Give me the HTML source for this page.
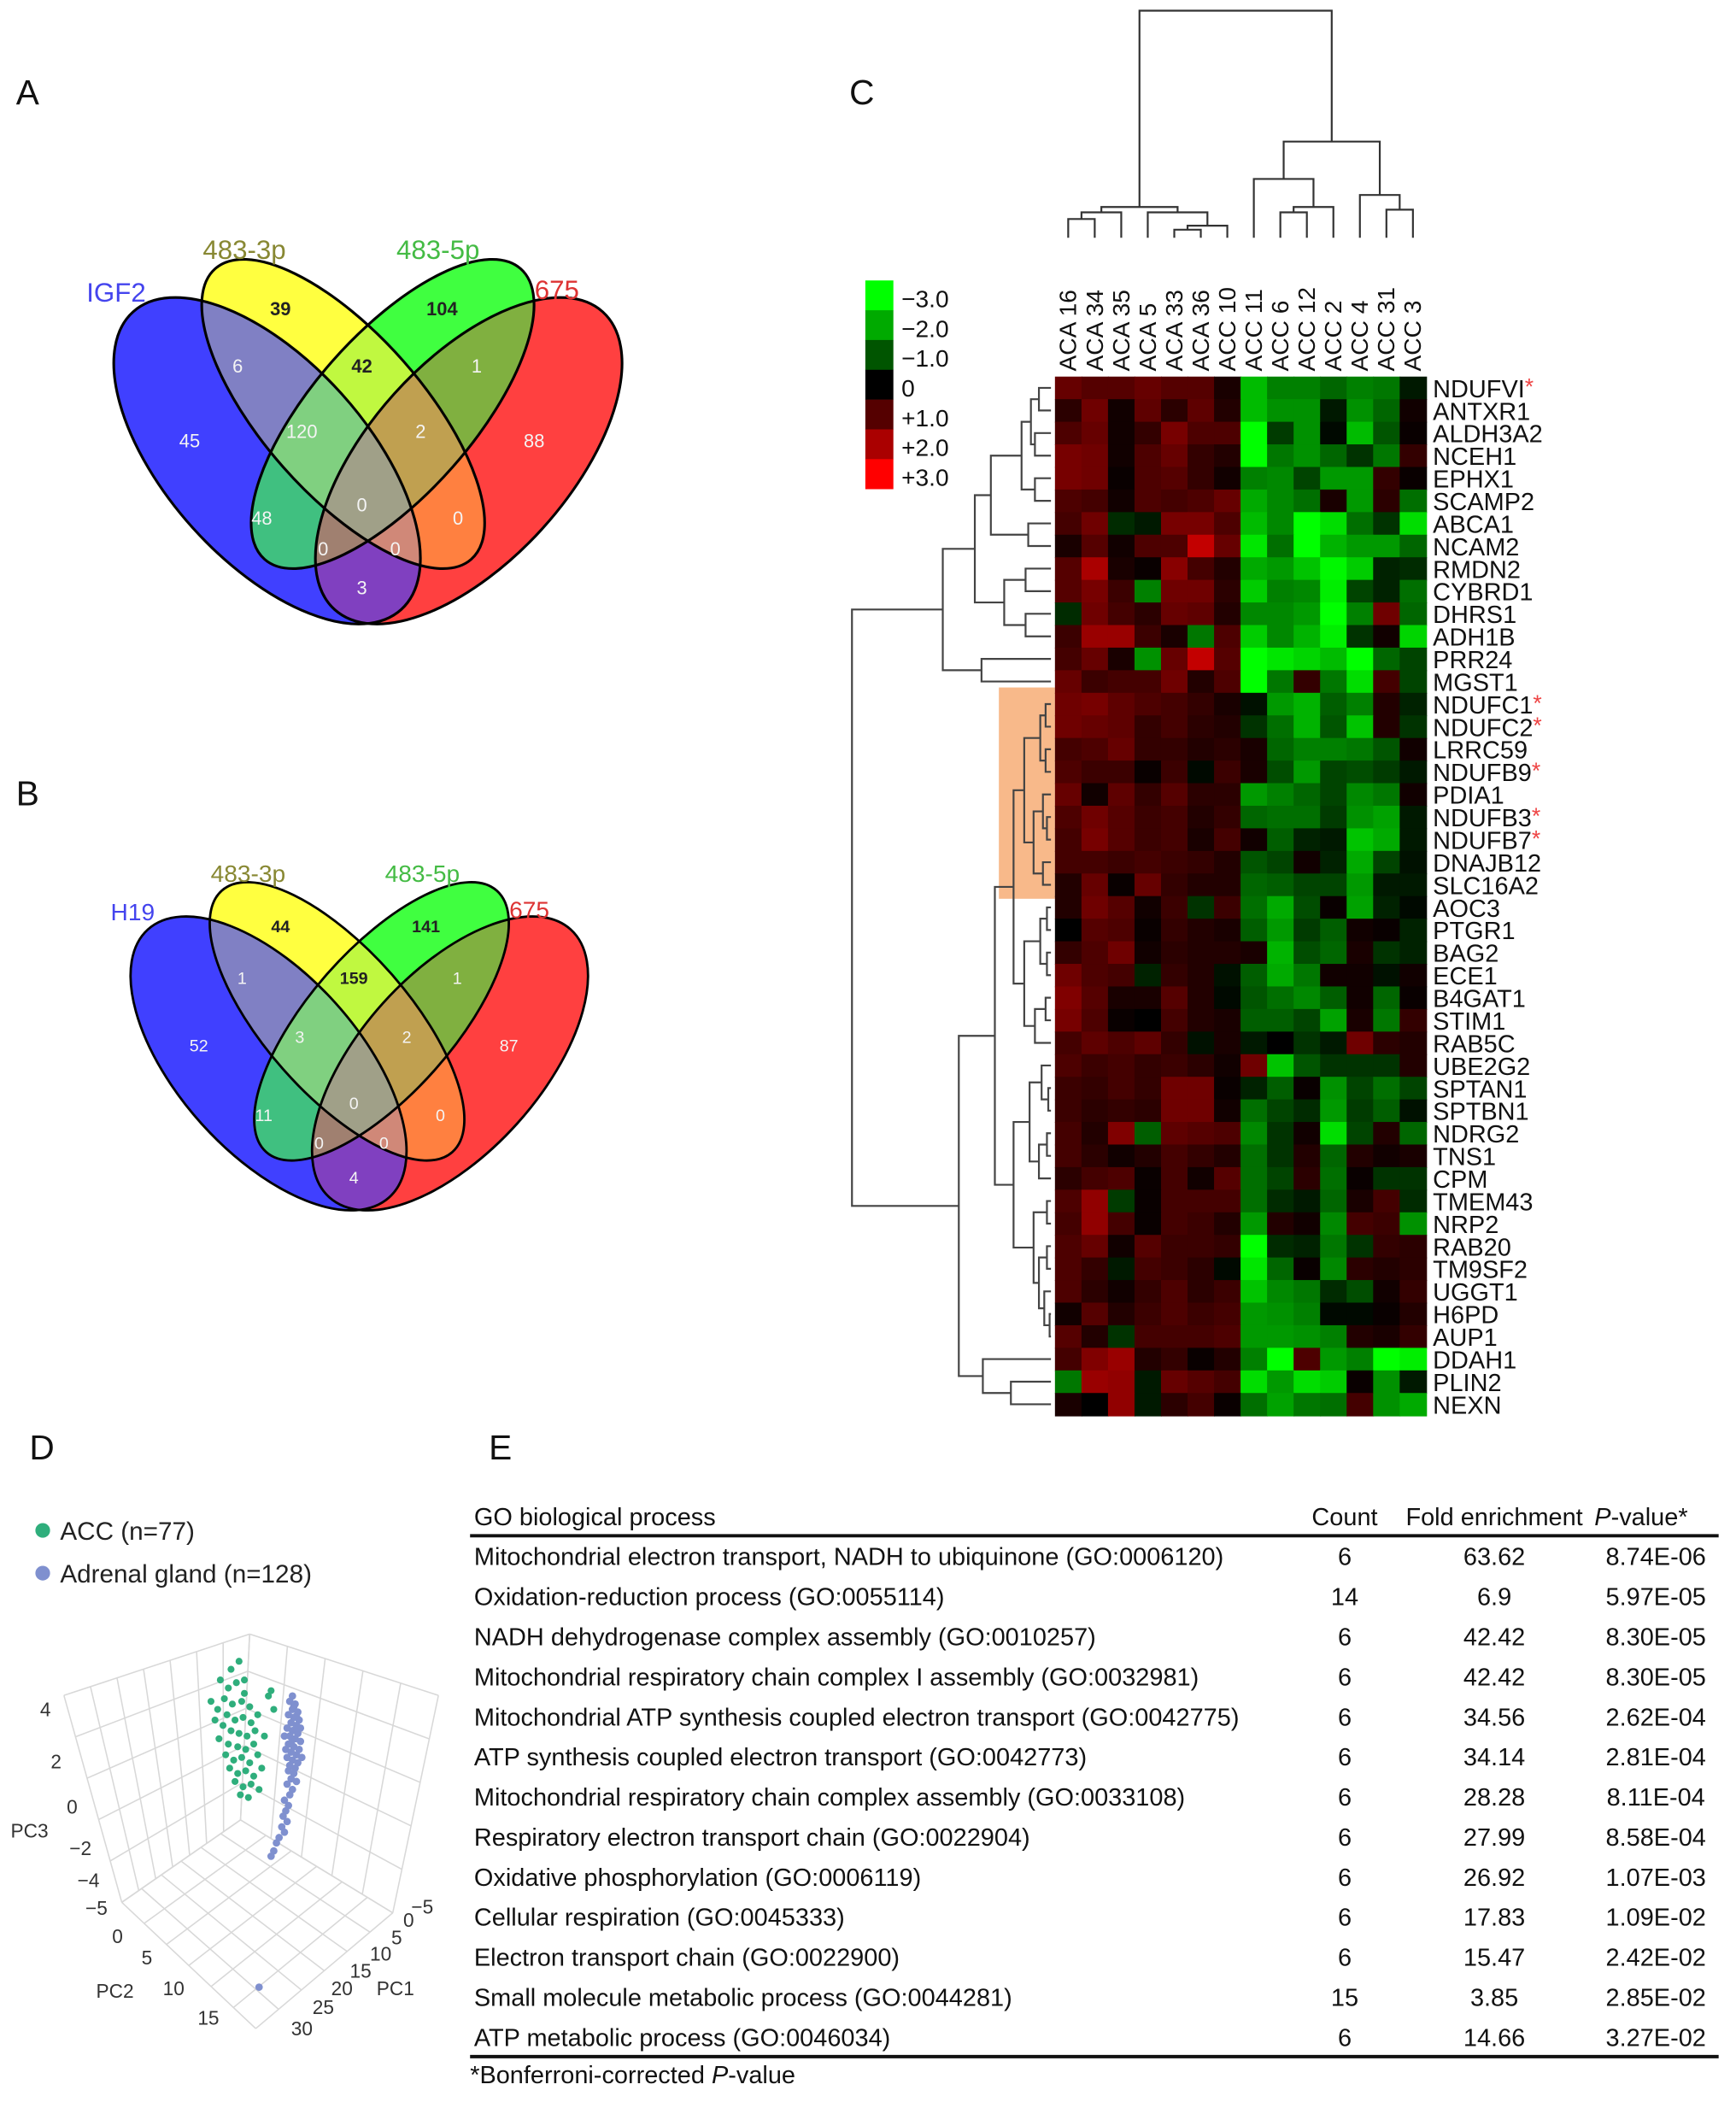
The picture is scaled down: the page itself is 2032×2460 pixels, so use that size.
<!DOCTYPE html>
<html><head><meta charset="utf-8">
<style>
html,body{margin:0;padding:0;background:#fff;}
svg{display:block;font-family:"Liberation Sans",Arial,sans-serif;}
</style></head>
<body>
<svg id="fig" width="2032" height="2460" viewBox="0 0 1300 1574" preserveAspectRatio="none">
<defs id="defs"></defs>
<g font-size="26" fill="#111">
<text x="12" y="78">A</text>
<text x="12" y="603">B</text>
<text x="636" y="78">C</text>
<text x="22" y="1093">D</text>
<text x="366" y="1093">E</text>
</g>
<g id="vennA"></g>
<g id="vennB" transform="translate(265,826) scale(0.9) translate(-271,-378)"></g>
<g id="heat"></g>
<g id="pca"></g>
<g id="table"></g>
</svg>
<script>
const NS="http://www.w3.org/2000/svg";
function mk(tag,attrs,parent,txt){const e=document.createElementNS(NS,tag);for(const k in attrs)e.setAttribute(k,attrs[k]);if(txt!==undefined)e.textContent=txt;parent.appendChild(e);return e;}
const defs=document.getElementById("defs");

/* ---------- Venn data ---------- */
const vennSetsA=["IGF2","483-3p","483-5p","675"];
const vennSetsB=["H19","483-3p","483-5p","675"];
const vennCountsA=["39","104","6","42","1","45","120","2","88","0","48","0","0","0","3"];
const vennCountsB=["44","141","1","159","1","52","3","2","87","0","11","0","0","0","4"];
const vennRegionPos=[[210,231],[331,231],[178,274],[271,274],[357,274],[142,330],[226,323],[315,323],[400,330],[271,378],[196,388],[343,388],[242,411],[296,411],[271,440]];
const vennDark=[true,true,false,true,false,false,false,false,false,false,false,false,false,false,false];
const vennEll=[
  {cx:200,cy:345,rx:150,ry:75,rot:48},
  {cx:257,cy:310,rx:145,ry:60,rot:48.6},
  {cx:294,cy:310,rx:145,ry:60,rot:-48.6},
  {cx:351,cy:345,rx:150,ry:75,rot:-48}];
// region fill by membership bitmask (1 blue, 2 yellow, 4 green, 8 red)
const regionFill={1:"#4040ff",2:"#ffff40",4:"#40ff40",8:"#ff4040",3:"#8080c4",6:"#c0f840",12:"#80b040",7:"#80d080",14:"#c0a050",15:"#a0a088",5:"#40c080",10:"#ff8040",13:"#a08070",11:"#d08878",9:"#8040c0"};
function ellAttrs(e){return {cx:e.cx,cy:e.cy,rx:e.rx,ry:e.ry,transform:`rotate(${e.rot} ${e.cx} ${e.cy})`};}
function drawVenn(g,sets,counts,id){
  vennEll.forEach((e,i)=>{const cp=mk("clipPath",{id:`c${id}${i}`},defs);mk("ellipse",ellAttrs(e),cp);});
  for(let s=1;s<16;s++){
    const mem=[0,1,2,3].filter(i=>s&(1<<i));
    const non=[0,1,2,3].filter(i=>!(s&(1<<i)));
    const m=mk("mask",{id:`m${id}${s}`,maskUnits:"userSpaceOnUse",x:0,y:0,width:600,height:600},defs);
    mk("rect",{x:0,y:0,width:600,height:600,fill:"#fff"},m);
    non.forEach(i=>mk("ellipse",Object.assign(ellAttrs(vennEll[i]),{fill:"#000"}),m));
    let cur=mk("g",{mask:`url(#m${id}${s})`},g);
    
    
    mem.forEach(i=>{cur=mk("g",{"clip-path":`url(#c${id}${i})`},cur);});
    mk("rect",{x:0,y:100,width:600,height:500,fill:regionFill[s]},cur);
  }
  vennEll.forEach((e,i)=>{const el=mk("ellipse",Object.assign(ellAttrs(e),{fill:"none",stroke:"#000","stroke-width":2}),g);
    
    });
  const lp=[[87,226,"#4444ee"],[183,194,"#888833"],[328,194,"#44bb44"],[417,224,"#dd3333"]];
  sets.forEach((s,i)=>{const t=mk("text",{x:lp[i][0],y:lp[i][1],"text-anchor":"middle","font-size":20,fill:lp[i][2]},g,s);
    
    });
  counts.forEach((c,i)=>{const t=mk("text",{x:vennRegionPos[i][0],y:vennRegionPos[i][1]+5,"text-anchor":"middle","font-size":14,"font-weight":vennDark[i]?"bold":"normal",fill:vennDark[i]?"#222":"#f4f4f4"},g,c);
    
    });
}
drawVenn(document.getElementById("vennA"),vennSetsA,vennCountsA,"a");
drawVenn(document.getElementById("vennB"),vennSetsB,vennCountsB,"b");

/* ---------- Heatmap data ---------- */
const samples=["ACA 16","ACA 34","ACA 35","ACA 5","ACA 33","ACA 36","ACC 10","ACC 11","ACC 6","ACC 12","ACC 2","ACC 4","ACC 31","ACC 3"];
const genes=["NDUFVI","ANTXR1","ALDH3A2","NCEH1","EPHX1","SCAMP2","ABCA1","NCAM2","RMDN2","CYBRD1","DHRS1","ADH1B","PRR24","MGST1","NDUFC1","NDUFC2","LRRC59","NDUFB9","PDIA1","NDUFB3","NDUFB7","DNAJB12","SLC16A2","AOC3","PTGR1","BAG2","ECE1","B4GAT1","STIM1","RAB5C","UBE2G2","SPTAN1","SPTBN1","NDRG2","TNS1","CPM","TMEM43","NRP2","RAB20","TM9SF2","UGGT1","H6PD","AUP1","DDAH1","PLIN2","NEXN"];
const starred=["NDUFVI","NDUFC1","NDUFC2","NDUFB9","NDUFB3","NDUFB7"];
const values=[
[1.2,1.0,1.0,1.2,1.0,1.0,0.3,-2.2,-1.5,-1.5,-1.2,-1.5,-1.4,-0.3],
[0.5,1.3,0.2,1.1,0.5,1.1,0.4,-2.2,-1.7,-1.7,-0.3,-1.7,-1.2,0.2],
[0.9,1.2,0.2,0.6,1.4,0.9,0.9,-3,-0.7,-1.7,-0.1,-2.2,-1,0.1],
[1.4,1.3,0.2,0.9,1.2,0.6,0.4,-3,-1.4,-1.7,-1.2,-0.6,-1.4,0.6],
[1.4,1.3,0.1,0.9,1,0.6,0.2,-1.5,-1.6,-0.8,-1.8,-1.8,0.6,0.1],
[0.9,0.8,0.2,0.9,0.8,0.9,1.2,-2,-1.6,-1.3,0.3,-1.8,0.5,-1.3],
[0.8,1.3,-0.5,-0.3,1.4,1.4,0.9,-2.2,-1.6,-3,-2.6,-1.3,-0.6,-2.6],
[0.3,1,0.2,0.9,0.9,2.3,1.2,-2.7,-1.3,-3,-2.1,-1.8,-1.8,-1.2],
[1,2,0.3,0.1,1.6,0.8,0.4,-2,-1.8,-2.3,-2.9,-2.4,-0.4,-0.5],
[1,1.4,0.7,-1.5,1.3,1.3,0.5,-2.4,-1.5,-1.6,-2.8,-0.8,-0.4,-1.3],
[-0.5,1.3,0.8,0.5,1.2,1.1,0.4,-1.6,-1.6,-1.8,-3,-1.5,1.3,-1.2],
[0.7,1.8,1.8,0.7,0.3,-1.4,0.9,-2.4,-1.6,-2.1,-2.8,-0.6,0.2,-2.5],
[0.8,1.2,0.3,-1.7,1.2,2.3,1,-3,-2.7,-2.5,-2.2,-3,-1.2,-0.8],
[1.2,0.7,0.8,0.8,1.3,0.4,0.9,-3,-1.4,0.6,-1.4,-2.6,0.8,-0.8],
[1.3,1.4,1.1,0.9,0.8,0.6,0.3,-0.2,-1.8,-2.1,-1.1,-1.5,0.4,-0.4],
[1.3,1.2,1.1,0.6,0.8,0.5,0.4,-0.6,-1.3,-2.1,-1,-2.3,0.4,-0.6],
[0.8,0.9,1.2,0.6,0.6,0.4,0.5,0.3,-1.2,-1.5,-1.5,-1.4,-1,0.2],
[0.9,0.7,0.7,0.1,0.7,-0.1,0.7,0.3,-0.9,-1.8,-0.8,-0.9,-0.7,-0.3],
[1.2,0.2,1.1,0.6,1,0.5,0.5,-1.8,-1.5,-1.2,-0.8,-1.6,-1.4,0.2],
[0.9,1.3,1,0.7,0.8,0.4,0.6,-1.2,-1.3,-1.3,-0.7,-1.7,-1.9,-0.3],
[0.8,1.4,1,0.7,0.8,0.3,0.8,0.2,-1.1,-0.4,-0.3,-2.3,-2,-0.3],
[0.8,0.8,0.7,0.8,0.7,0.6,0.4,-1,-0.8,0.2,-0.4,-2,-0.8,-0.2],
[0.4,1.2,0.1,1.2,0.6,0.4,0.4,-1.2,-1.1,-0.8,-0.8,-1.8,-0.3,-0.3],
[0.4,1.3,1,0.2,0.7,-0.6,0.7,-1.3,-2,-0.9,0.1,-1.9,-0.4,-0.1],
[0,1,0.9,0.1,0.6,0.4,0.3,-1.1,-1.8,-0.7,-1.1,0.2,0.1,-0.4],
[0.6,0.9,1.3,0.2,0.5,0.4,0.4,0.3,-2.1,-0.9,-1.2,0.3,-0.6,-0.4],
[1.3,0.9,0.8,-0.4,0.6,0.4,-0.2,-1.1,-2,-1.4,0.2,0.2,-0.2,0.2],
[1.5,1,0.3,0.3,1,0.4,-0.1,-1,-1.3,-1.6,-1.1,0.2,-1.2,0.1],
[1.4,0.9,0.1,0,0.8,0.4,0.3,-1.1,-1.1,-0.8,-1.9,0.3,-1.4,0.6],
[0.8,1.1,0.9,1.1,0.6,-0.2,0.3,-0.3,0,-0.6,-0.3,1.3,0.5,0.4],
[0.9,0.7,0.8,0.6,0.7,0.5,0.2,1.3,-2.3,-1,-0.6,-0.6,-0.6,0.4],
[0.7,0.6,0.8,0.6,1.3,1.3,0.1,-0.4,-1.1,0.1,-1.7,-0.8,-1.3,-0.8],
[0.7,0.5,0.6,0.5,1.3,1.3,0.2,-1.3,-0.8,-0.5,-1.8,-0.7,-1.1,-0.2],
[0.8,0.4,1.5,-1.1,1.1,1,0.9,-1.6,-0.6,0.2,-2.6,-0.8,0.4,-1.2],
[0.8,0.5,0.2,0.4,0.8,0.6,0.4,-1.3,-0.6,0.4,-1.2,0.4,0.2,0.3],
[0.5,0.8,0.9,0.1,0.8,0.2,1,-1.3,-0.8,0.5,-1.3,0.1,-0.6,-0.6],
[0.9,1.7,-0.7,0.1,0.8,0.8,0.8,-1.3,-0.5,-0.3,-1.2,0.3,0.8,-0.5],
[0.8,1.7,0.8,0.1,0.8,0.7,0.4,-1.8,0.4,0.2,-1.6,0.8,0.7,-1.7],
[0.9,1.2,0.2,1,0.7,0.7,0.6,-3,-0.5,-0.4,-1.4,-0.6,0.6,0.5],
[0.9,0.6,-0.3,0.8,0.7,0.5,-0.1,-2.7,-1.2,0.1,-1.6,0.5,0.4,0.5],
[0.9,0.5,0.2,0.6,0.9,0.5,0.7,-2.3,-1.6,-1.4,-0.5,-0.9,0.2,0.6],
[0.2,1,0.4,0.7,0.9,0.7,0.8,-1.8,-1.7,-1.5,-0.1,-0.1,0.1,0.4],
[1,0.4,-0.6,0.8,0.8,0.8,0.9,-1.8,-1.8,-1.7,-1.5,0.4,0.3,0.6],
[0.8,1.5,1.8,0.4,0.6,0.1,0.4,-1.5,-3,0.9,-1.8,-1.5,-3,-2.8],
[-1.4,1.8,1.7,-0.3,1.2,1,0.8,-2.6,-1.8,-2.6,-2.4,0.1,-1.7,-0.3],
[0.3,0,1.7,-0.3,0.5,0.8,0.1,-1.3,-1.9,-1.4,-1.3,0.8,-1.7,-2]];
const legendValues=[-3,-2,-1,0,1,2,3];
const legendLabels=["\u22123.0","\u22122.0","\u22121.0","0","+1.0","+2.0","+3.0"];
const rowTree=[638,
 [706,[730,[742,[765,[772,[778,0,1],[775,2,3]],[775,4,5]],[770,6,7]],[752,[768,8,9],[768,10,11]]],[735,12,13]],
 [718,
  [745,
   [759,[767,[779,[783,14,15],[783,16,17]],[774,[781,18,[784,19,20]],[781,21,22]]],
        [767,[779,[784,23,24],[784,25,26]],[775,[783,27,28],29]]],
   [759,[771,[780,30,[785,31,32]],[778,[784,33,34],35]],
        [774,[784,36,37],[778,[784,38,39],[782,40,[786,41,42]]]]]],
  [736,43,[757,44,45]]]];

const HX0=790,HX1=1068,HY0=282,HY1=1060;
const cw=(HX1-HX0)/samples.length, rh=(HY1-HY0)/genes.length;
const xCol=i=>HX0+i*cw, yRow=r=>HY0+r*rh;
function heatColor(v){const t=Math.min(Math.abs(v),3)/3;const c=Math.round(255*t);return v>=0?`rgb(${c},0,0)`:`rgb(0,${c},0)`;}
(function(){
 const g=document.getElementById("heat");
 mk("rect",{x:748,y:yRow(14)-4,width:42,height:rh*9+6,fill:"#f8b98a"},g);
 values.forEach((row,r)=>row.forEach((v,c)=>{
   const cell=mk("rect",{x:xCol(c),y:yRow(r),width:cw+0.6,height:rh+0.6,fill:heatColor(v)},g);
   
   
 }));
 genes.forEach((gn,r)=>{
   const t=mk("text",{x:HX1+5,y:yRow(r)+rh-1.5,"font-size":18.5,fill:"#111"},g,gn);
   
   
   if(starred.includes(gn)){mk("tspan",{fill:"#ee4444","font-size":17,dy:-2},t,"*");}
 });
 samples.forEach((s,i)=>{
   const x=xCol(i)+cw/2+6, y=278;
   const t=mk("text",{x:x,y:y,transform:`rotate(-90 ${x} ${y})`,"font-size":18,fill:"#111"},g,s);
   
   
 });
 legendValues.forEach((v,i)=>{
   const r=mk("rect",{x:648,y:210+i*22.3,width:21,height:22.5,fill:heatColor(v)},g);
   
   
   const t=mk("text",{x:675,y:230+i*22.3,"font-size":18,fill:"#111"},g,legendLabels[i]);
   
   
 });
 const rg=mk("g",{stroke:"#444","stroke-width":1.4,fill:"none"},g);
 
 function draw(n){ if(typeof n==="number") return {x:HX0-3,y:yRow(n)+rh/2};
   const a=draw(n[1]),b=draw(n[2]),x=n[0];
   mk("path",{d:`M${a.x},${a.y}H${x}V${b.y}H${b.x}`},rg);
   return {x:x,y:(a.y+b.y)/2}; }
 draw(rowTree);
 const cg=mk("g",{stroke:"#333","stroke-width":1.4,fill:"none"},g);
 
 const colTree=[8,[155,[159,[164,0,1],2],[159,3,[169,[172,4,5],6]]],[106,[134,7,[155,[159,8,9],10]],[146,11,[157,12,13]]]];
 function dc(n){ if(typeof n==="number") return {x:xCol(n)+cw/2,y:178};
   const a=dc(n[1]),b=dc(n[2]),y=n[0];
   mk("path",{d:`M${a.x},${a.y}V${y}H${b.x}V${b.y}`},cg);
   return {x:(a.x+b.x)/2,y:y}; }
 dc(colTree);
})();

/* ---------- PCA 3D ---------- */
const accU=[30,36,22,28,34,40,25,31,38,44,20,27,33,39,45,24,30,36,42,48,21,28,35,41,47,26,32,38,44,50,29,35,41,47,33,39,45,51,37,43,18,15,50,53,40,60,62,55,58];
const accV=[10,4,18,24,20,28,32,36,34,38,40,44,48,46,50,52,56,58,60,56,62,66,68,70,66,74,78,76,80,74,84,88,86,90,94,98,96,100,104,106,48,34,44,84,18,26,40,60,30];
const adrU=[74,78,76,80,73,77,81,75,79,72,76,80,74,78,82,73,77,81,75,79,72,76,80,74,78,73,77,75,79,72,76,74,70,73,71,69,72,68,70,66,64,62,60,77,82,70,71,83,51,76,79,75,78];
const adrV=[34,36,40,42,44,46,48,50,52,54,56,58,60,62,64,66,68,70,72,74,76,78,80,82,84,86,88,92,94,96,100,104,108,112,116,120,124,128,132,136,140,146,150,38,54,60,70,76,248,30,45,65,55];
(function(){
 const g=document.getElementById("pca");
 const px=u=>143+u, py=v=>1240+v;
 const P=(zx,zy)=>[zx*0.228,1133+zy*0.2626];
 const grid=mk("g",{stroke:"#d8d8d8","stroke-width":1,fill:"none"},g);
 
 const B=[820,345],O=[790,875],LT=[210,520],LB=[400,1110],RT=[1440,520],RB=[1290,1140],F=[840,1470];
 const lerp=(a,b,t)=>[a[0]+(b[0]-a[0])*t,a[1]+(b[1]-a[1])*t];
 function line(a,b){const p=P(a[0],a[1]),q=P(b[0],b[1]);mk("line",{x1:p[0],y1:p[1],x2:q[0],y2:q[1]},grid);}
 function wall(A,Bp,C,D,n,m){
   for(let i=0;i<=n;i++){const t=i/n;line(lerp(A,Bp,t),lerp(D,C,t));}
   for(let j=0;j<=m;j++){const t=j/m;line(lerp(A,D,t),lerp(Bp,C,t));}}
 wall(LT,B,O,LB,7,5);
 wall(B,RT,RB,O,5,5);
 wall(LB,O,RB,F,6,6);
 const pts=mk("g",{},g);
 accU.forEach((u,i)=>{const c=mk("circle",{cx:px(u),cy:py(accV[i]),r:2.6,fill:"#2fae7c"},pts);
   
   });
 adrU.forEach((u,i)=>{const c=mk("circle",{cx:px(u),cy:py(adrV[i]),r:2.8,fill:"#7f90cf"},pts);
   
   });
 const labs=[["4",30,1285],["2",38,1324],["0",50,1358],["PC3",8,1376],["\u22122",52,1389],["\u22124",58,1413],["\u22125",64,1434],["0",84,1455],["5",106,1471],["PC2",72,1496],["10",122,1494],["15",148,1516],["30",218,1524],["25",234,1508],["20",248,1494],["PC1",282,1494],["15",262,1481],["10",277,1468],["5",293,1456],["0",302,1443],["\u22125",308,1433]];
 labs.forEach(l=>{const t=mk("text",{x:l[1],y:l[2],"font-size":14.5,fill:"#333"},g,l[0]);
   
   });
 const l1=mk("circle",{cx:32,cy:1146,r:5.5,fill:"#2fae7c"},g);
 
 const l2=mk("circle",{cx:32,cy:1178,r:5.5,fill:"#7f90cf"},g);
 
 const t1=mk("text",{x:45,y:1153,"font-size":19,fill:"#222"},g,"ACC (n=77)");
 
 
 const t2=mk("text",{x:45,y:1185,"font-size":19,fill:"#222"},g,"Adrenal gland (n=128)");
 
 
})();

/* ---------- Table ---------- */
const goTerms=["Mitochondrial electron transport, NADH to ubiquinone (GO:0006120)","Oxidation-reduction process (GO:0055114)","NADH dehydrogenase complex assembly (GO:0010257)","Mitochondrial respiratory chain complex I assembly (GO:0032981)","Mitochondrial ATP synthesis coupled electron transport (GO:0042775)","ATP synthesis coupled electron transport (GO:0042773)","Mitochondrial respiratory chain complex assembly (GO:0033108)","Respiratory electron transport chain (GO:0022904)","Oxidative phosphorylation (GO:0006119)","Cellular respiration (GO:0045333)","Electron transport chain (GO:0022900)","Small molecule metabolic process (GO:0044281)","ATP metabolic process (GO:0046034)"];
const goCounts=["6","14","6","6","6","6","6","6","6","6","6","15","6"];
const goFold=["63.62","6.9","42.42","42.42","34.56","34.14","28.28","27.99","26.92","17.83","15.47","3.85","14.66"];
const goP=["8.74E-06","5.97E-05","8.30E-05","8.30E-05","2.62E-04","2.81E-04","8.11E-04","8.58E-04","1.07E-03","1.09E-02","2.42E-02","2.85E-02","3.27E-02"];
(function(){
 const g=document.getElementById("table");
 const fs=18.5;
 const h=[["GO biological process",355,"start"],["Count",1007,"middle"],["Fold enrichment",1119,"middle"]];
 h.forEach(c=>{const t=mk("text",{x:c[1],y:1142,"font-size":fs,"text-anchor":c[2],fill:"#111"},g,c[0]);
   
   });
 const ph=mk("text",{x:1194,y:1142,"font-size":fs,fill:"#111"},g);
 
 
 mk("tspan",{"font-style":"italic"},ph,"P");mk("tspan",{},ph,"-value*");
 mk("line",{x1:352,y1:1150,x2:1287,y2:1150,stroke:"#111","stroke-width":2.5},g);
 goTerms.forEach((term,i)=>{
   const y=1172+i*30;
   const a=mk("text",{x:355,y:y,"font-size":fs,fill:"#111"},g,term);
   
   
   const b=mk("text",{x:1007,y:y,"font-size":fs,"text-anchor":"middle",fill:"#111"},g,goCounts[i]);
   
   
   const c=mk("text",{x:1119,y:y,"font-size":fs,"text-anchor":"middle",fill:"#111"},g,goFold[i]);
   
   
   const d=mk("text",{x:1240,y:y,"font-size":fs,"text-anchor":"middle",fill:"#111"},g,goP[i]);
   
   
 });
 mk("line",{x1:352,y1:1540,x2:1287,y2:1540,stroke:"#111","stroke-width":2.5},g);
 const f=mk("text",{x:352,y:1560,"font-size":fs,fill:"#111"},g);
 
 
 mk("tspan",{},f,"*Bonferroni-corrected ");mk("tspan",{"font-style":"italic"},f,"P");mk("tspan",{},f,"-value");
})();
</script>
</body></html>
